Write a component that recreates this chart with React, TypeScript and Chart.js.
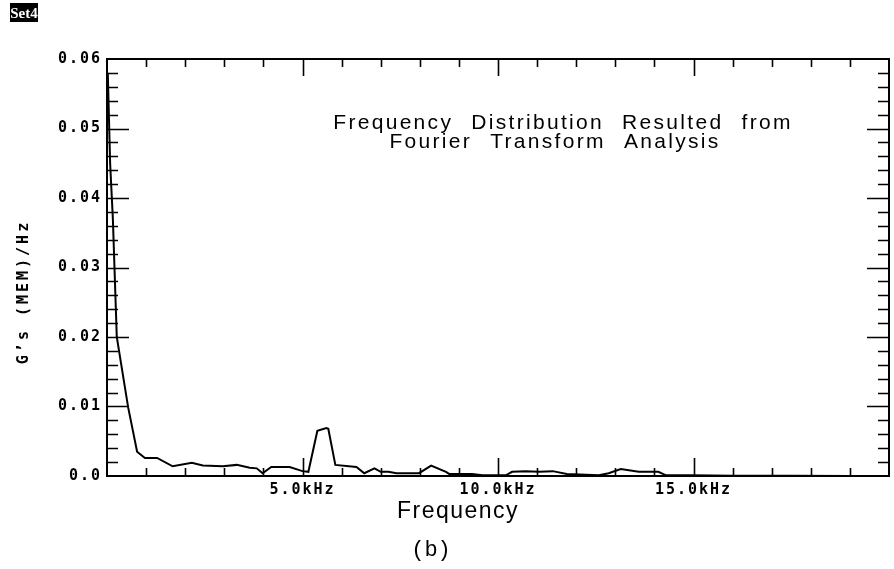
import React, { useEffect, useRef } from "react";
import { Chart, registerables } from "chart.js";

Chart.register(...registerables);

// ---- data ----
const freqKHz = [
  0.02, 0.08, 0.15, 0.25, 0.54, 0.77, 0.97, 1.28, 1.68, 2.17, 2.45, 2.96, 3.32, 3.65,
  3.83, 3.98, 4.2, 4.5, 4.67, 5.0, 5.15, 5.38, 5.61, 5.66, 5.84, 6.38, 6.58, 6.84,
  7.0, 7.2, 7.4, 7.98, 8.29, 8.67, 8.75, 9.34, 9.6, 10.2, 10.36, 10.7, 11.05, 11.4,
  11.76, 12.58, 12.83, 13.14, 13.6, 14.1, 14.3, 14.95, 16.0, 17.5, 19.0, 20.0,
];
const gValues = [
  0.058, 0.045, 0.037, 0.02, 0.0099, 0.0035, 0.0026, 0.0026, 0.0014, 0.0019, 0.0015, 0.0014, 0.0016, 0.0012,
  0.0011, 0.0004, 0.0013, 0.0013, 0.0013, 0.0007, 0.0006, 0.0065, 0.0069, 0.0068, 0.0016, 0.0013, 0.0004, 0.0011,
  0.0006, 0.0006, 0.0004, 0.0004, 0.0015, 0.0006, 0.0003, 0.0003, 0.0001, 0.0001, 0.0006, 0.0007, 0.0006, 0.0007,
  0.0003, 0.0001, 0.0004, 0.001, 0.0006, 0.0006, 0.0001, 0.0001, 0.00005, 0.00005, 0.0, 0.0,
];
const xMajorTicks = [5, 10, 15];
const xTickLabels = ["5.0kHz", "10.0kHz", "15.0kHz"];
const yTickLabels = ["0.0", "0.01", "0.02", "0.03", "0.04", "0.05", "0.06"];
const yAxisTitle = "G\u2019s (MEM)/Hz";
const xAxisTitle = "Frequency";
const annotationLines = ["Frequency Distribution Resulted from", "Fourier Transform Analysis"];
const panelLabel = "(b)";
const setLabel = "Set4";

const MONO = '"DejaVu Sans Mono", monospace';

const framePlugin = {
  id: "frameAndText",
  beforeDraw(chart: any) {
    (chart.ctx as any).letterSpacing = "2px";
  },
  afterDraw(chart: any) {
    const ctx = chart.ctx as any;
    const a = chart.chartArea;
    const xs = chart.scales.x;
    const ys = chart.scales.y;
    ctx.save();
    ctx.letterSpacing = "0px";
    ctx.strokeStyle = "#000";
    ctx.lineWidth = 2;
    ctx.strokeRect(a.left, a.top, a.right - a.left, a.bottom - a.top);

    ctx.lineWidth = 1.6;
    ctx.beginPath();
    for (let k = 1; k < 20; k++) {
      const px = Math.round(xs.getPixelForValue(k)) + 0.5;
      const major = k % 5 === 0;
      ctx.moveTo(px, a.bottom);
      ctx.lineTo(px, a.bottom - (major ? 18 : 8));
      ctx.moveTo(px, a.top);
      ctx.lineTo(px, a.top + (major ? 17 : 8));
    }
    for (let k = 1; k < 30; k++) {
      const py = Math.round(ys.getPixelForValue(k * 0.002)) + 0.5;
      const major = k % 5 === 0;
      const l = major ? 22 : 11;
      ctx.moveTo(a.left, py);
      ctx.lineTo(a.left + l, py);
      ctx.moveTo(a.right, py);
      ctx.lineTo(a.right - l, py);
    }
    ctx.stroke();

    ctx.fillStyle = "#000";
    // annotation
    ctx.font = '21px "Liberation Sans", Arial, sans-serif';
    ctx.letterSpacing = "2.3px";
    ctx.wordSpacing = "10px";
    ctx.textAlign = "center";
    ctx.textBaseline = "alphabetic";
    ctx.fillText(annotationLines[0], 563, 129);
    ctx.fillText(annotationLines[1], 555, 148);
    ctx.wordSpacing = "0px";

    // x axis title
    ctx.font = '23px "Liberation Sans", Arial, sans-serif';
    ctx.letterSpacing = "1.5px";
    ctx.fillText(xAxisTitle, 458, 518);

    // panel label
    ctx.font = '22px "Liberation Mono", monospace';
    ctx.letterSpacing = "0px";
    ctx.fillText(panelLabel, 431, 556);

    // y axis title
    ctx.save();
    ctx.translate(24, 292);
    ctx.rotate(-Math.PI / 2);
    ctx.font = "bold 15px " + MONO;
    ctx.letterSpacing = "3px";
    ctx.textBaseline = "middle";
    ctx.fillText(yAxisTitle, 0, 0);
    ctx.restore();

    // Set4 tag
    ctx.letterSpacing = "0px";
    ctx.fillStyle = "#000";
    ctx.fillRect(10, 3, 28, 19);
    ctx.fillStyle = "#fff";
    ctx.font = 'bold 15px "Liberation Serif", serif';
    ctx.textAlign = "center";
    ctx.textBaseline = "alphabetic";
    ctx.fillText(setLabel, 24, 18);
    ctx.restore();
  },
};

export default function App() {
  const ref = useRef<HTMLCanvasElement | null>(null);
  useEffect(() => {
    if (!ref.current) return;
    const points = freqKHz.map((f, i) => ({ x: f, y: gValues[i] }));
    const chart = new Chart(ref.current, {
      type: "line",
      data: {
        datasets: [
          {
            data: points,
            borderColor: "#000",
            borderWidth: 2,
            pointRadius: 0,
            tension: 0,
            fill: false,
          },
        ],
      },
      options: {
        animation: false,
        responsive: false,
        events: [],
        layout: { padding: { top: 59, right: 3, left: 0, bottom: 0 } },
        plugins: { legend: { display: false }, tooltip: { enabled: false } },
        scales: {
          x: {
            type: "linear",
            min: 0,
            max: 20,
            grid: { display: false, drawTicks: false },
            border: { display: false },
            afterFit: (s: any) => {
              s.height = 93;
            },
            ticks: {
              stepSize: 5,
              autoSkip: false,
              maxRotation: 0,
              padding: 5,
              color: "#000",
              font: { family: MONO, size: 15, weight: "bold" },
              callback: (v: any) => {
                const idx = xMajorTicks.indexOf(Math.round(Number(v)));
                return idx >= 0 ? xTickLabels[idx] : "";
              },
            },
          },
          y: {
            min: 0,
            max: 0.06,
            grid: { display: false, drawTicks: false },
            border: { display: false },
            afterFit: (s: any) => {
              s.width = 107;
            },
            ticks: {
              stepSize: 0.01,
              autoSkip: false,
              padding: 5,
              color: "#000",
              font: { family: MONO, size: 15, weight: "bold" },
              callback: (v: any) => yTickLabels[Math.round(Number(v) / 0.01)] ?? "",
            },
          },
        },
      },
      plugins: [framePlugin],
    });
    return () => chart.destroy();
  }, []);
  return (
    <div style={{ position: "fixed", left: 0, top: 0, width: 894, height: 569, background: "#fff" }}>
      <canvas ref={ref} width={894} height={569} />
    </div>
  );
}
